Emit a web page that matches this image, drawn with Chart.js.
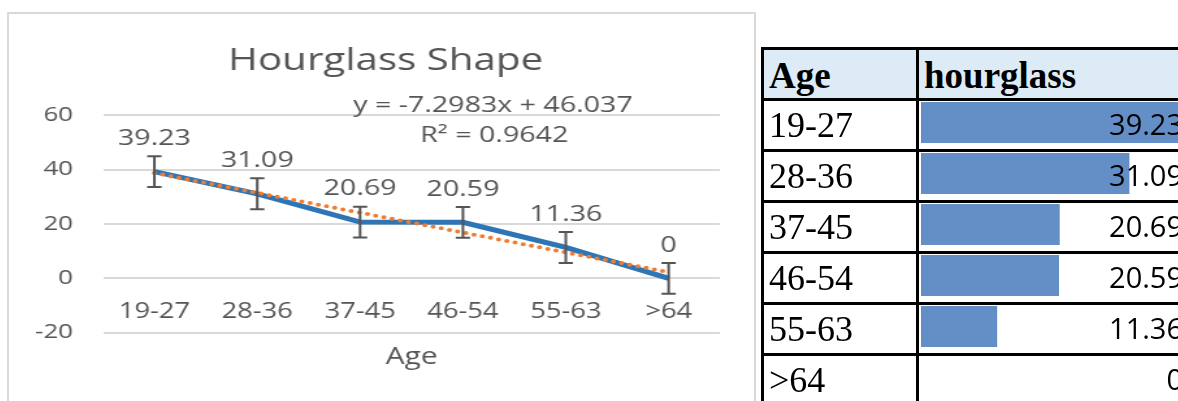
<!DOCTYPE html>
<html>
<head>
<meta charset="utf-8">
<title>Hourglass Shape</title>
<script src="https://cdn.jsdelivr.net/npm/chart.js@4/dist/chart.umd.min.js"></script>
<style>
  html, body { margin: 0; padding: 0; background: #fff; }
  body { width: 1178px; height: 401px; overflow: hidden; position: relative; }
  .chart-frame {
    position: absolute; left: 7px; top: 12px; width: 745px; height: 420px;
    border: 2px solid #d9d9d9;
  }
  #trendChart {
    position: absolute; left: 10px; top: 15px;
    transform: scaleX(1.3); transform-origin: 0 0;
  }
  #barCanvas { position: absolute; left: 921px; top: 97px; z-index: 0; }
  #dataTable {
    position: absolute; left: 761px; top: 47px; z-index: 1; width: 438px;
    border-collapse: separate; border-spacing: 0; table-layout: fixed;
    border-top: 3px solid #000; border-left: 3px solid #000;
  }
  #dataTable th, #dataTable td {
    box-sizing: border-box; padding: 3px 0 0 5px;
    border-right: 3px solid #000; border-bottom: 3px solid #000;
    line-height: 45px; height: 51px; white-space: nowrap; overflow: hidden;
    background: transparent; text-align: left; vertical-align: top;
  }
  #dataTable th {
    background: #ddebf7; font: bold 37px 'Liberation Serif', serif;
    height: 50px; padding-top: 4px; line-height: 44px;
  }
  #dataTable td.age { font: 36px 'Liberation Serif', serif; }
  #dataTable td.val { font: 29px 'Open Sans', sans-serif; color: #000; text-align: right; padding: 3px 13px 0 0; }
</style>
</head>
<body>
<div class="chart-frame"></div>
<canvas id="trendChart" width="572" height="386"></canvas>
<canvas id="barCanvas" width="263" height="306"></canvas>
<table id="dataTable">
  <colgroup><col style="width:155px"><col style="width:280px"></colgroup>
  <thead><tr><th>Age</th><th>hourglass</th></tr></thead>
  <tbody id="table-body"></tbody>
</table>
<script>
// Chart data
const ageGroups = ['19-27', '28-36', '37-45', '46-54', '55-63', '>64'];
const hourglass = [39.23, 31.09, 20.69, 20.59, 11.36, 0];
const errorAmount = [5.68, 5.68, 5.68, 5.68, 5.68, 5.68];
const trendValues = [38.74, 31.44, 24.14, 16.84, 9.55, 2.25];
const yTicks = [-20, 0, 20, 40, 60];
const trendEquation = 'y = -7.2983x + 46.037';
const trendR2 = 'R² = 0.9642';

const textColor = '#555555';
Chart.defaults.font.family = "'Open Sans', sans-serif";

// Error bars, value labels and trendline equation
const overlayPlugin = {
  id: 'overlay',
  afterDatasetsDraw(chart) {
    const { ctx, chartArea } = chart;
    const x = chart.scales.x;
    const y = chart.scales.y;
    ctx.save();

    ctx.strokeStyle = textColor;
    ctx.lineWidth = 2;
    hourglass.forEach((v, i) => {
      const px = x.getPixelForValue(i);
      const top = y.getPixelForValue(v + errorAmount[i]);
      const bot = y.getPixelForValue(v - errorAmount[i]);
      ctx.beginPath();
      ctx.moveTo(px, top); ctx.lineTo(px, bot);
      ctx.moveTo(px - 5.5, top); ctx.lineTo(px + 5.5, top);
      ctx.moveTo(px - 5.5, bot); ctx.lineTo(px + 5.5, bot);
      ctx.stroke();
    });

    ctx.fillStyle = textColor;
    ctx.font = "22px 'Open Sans'";
    ctx.textAlign = 'center';
    ctx.textBaseline = 'middle';
    hourglass.forEach((v, i) => {
      ctx.fillText(String(v), x.getPixelForValue(i), y.getPixelForValue(v) - 33);
    });

    ctx.fillText(trendEquation, chartArea.left + 300, chartArea.top - 9);
    ctx.fillText(trendR2, chartArea.left + 301, chartArea.top + 21);
    ctx.restore();
  }
};

new Chart(document.getElementById('trendChart'), {
  type: 'line',
  data: {
    labels: ageGroups,
    datasets: [
      {
        label: 'hourglass',
        data: hourglass,
        borderColor: '#2E75B6',
        borderWidth: 5,
        pointRadius: 0,
        tension: 0,
        order: 2
      },
      {
        label: 'Linear (hourglass)',
        data: trendValues,
        borderColor: '#ED7D31',
        borderWidth: 4,
        borderDash: [0, 6.5],
        borderCapStyle: 'round',
        pointRadius: 0,
        tension: 0,
        order: 1
      }
    ]
  },
  options: {
    responsive: false,
    animation: false,
    layout: { padding: { top: 0, right: 0, bottom: 68.3, left: 6 } },
    plugins: {
      legend: { display: false },
      tooltip: { enabled: false },
      title: {
        display: true,
        text: 'Hourglass Shape',
        color: textColor,
        font: { size: 31, weight: 'normal' },
        padding: { top: 28, bottom: 35 }
      }
    },
    scales: {
      x: {
        position: { y: 0 },
        offset: true,
        grid: { display: false, drawTicks: false },
        border: { display: false },
        ticks: { color: textColor, font: { size: 21 }, padding: 21, maxRotation: 0, autoSkip: false },
        title: { display: true, text: 'Age', color: textColor, font: { size: 23 }, padding: { top: -2, bottom: 0 } }
      },
      y: {
        min: yTicks[0],
        max: yTicks[yTicks.length - 1],
        afterBuildTicks(scale) { scale.ticks = yTicks.map(v => ({ value: v })); },
        afterFit(scale) { scale.width = 65.5; },
        grid: { color: '#d9d9d9', lineWidth: 2, drawTicks: false },
        border: { display: false },
        ticks: { color: textColor, font: { size: 20 }, padding: 23 }
      },
      // empty right axis: keeps the plot's right margin without shifting the title
      yRight: {
        position: 'right',
        grid: { display: false, drawTicks: false },
        border: { display: false },
        ticks: { display: false },
        afterFit(scale) { scale.width = 25.8; }
      }
    }
  },
  plugins: [overlayPlugin]
});

// Table rows
const tbody = document.getElementById('table-body');
tbody.innerHTML = ageGroups.map((age, i) => `
  <tr><td class="age">${age.replace('>', '&gt;')}</td><td class="val">${hourglass[i]}</td></tr>
`).join('');

// Data bars inside the hourglass column
new Chart(document.getElementById('barCanvas'), {
  type: 'bar',
  data: {
    labels: ageGroups,
    datasets: [{
      data: hourglass,
      backgroundColor: '#638EC6',
      borderWidth: 0,
      barPercentage: 0.804,
      categoryPercentage: 1
    }]
  },
  options: {
    indexAxis: 'y',
    responsive: false,
    animation: false,
    layout: { padding: 0 },
    plugins: { legend: { display: false }, tooltip: { enabled: false } },
    scales: {
      x: { display: false, min: 0, max: Math.max(...hourglass) },
      y: { display: false }
    }
  }
});
</script>
</body>
</html>
